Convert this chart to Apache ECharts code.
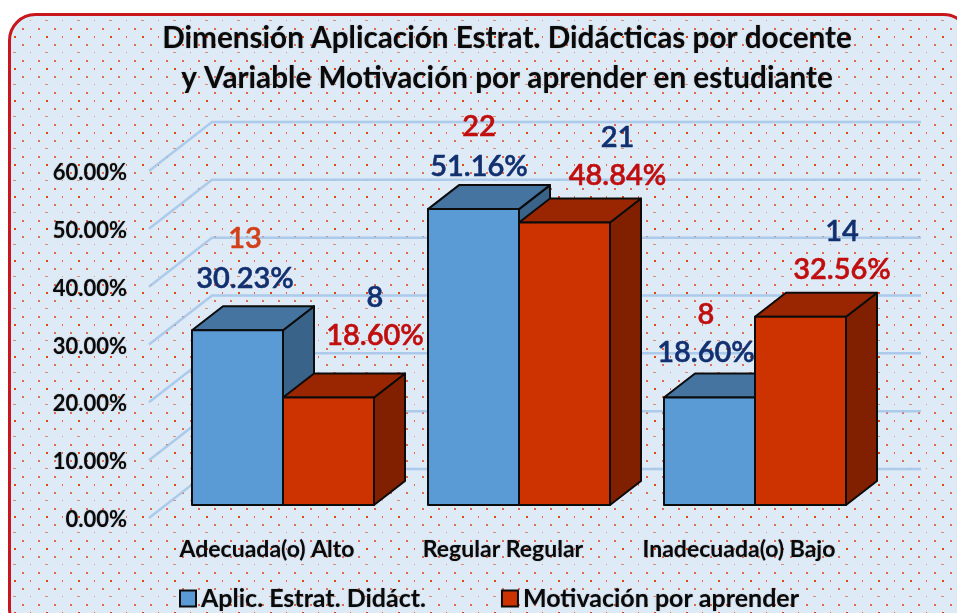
<!DOCTYPE html>
<html><head><meta charset="utf-8">
<style>html,body{margin:0;padding:0;background:#fff}#c{width:957px;height:613px}</style>
<script src="https://cdn.jsdelivr.net/npm/echarts@6/dist/echarts.min.js"></script>
</head><body><div id="c"></div>
<script>
const categories = ['Adecuada(o) Alto', 'Regular Regular', 'Inadecuada(o) Bajo'];
const yTicks = [0, 10, 20, 30, 40, 50, 60];
const seriesNames = ['Aplic. Estrat. Didáct.', 'Motivación por aprender'];
const aplicPct = [30.23, 51.16, 18.60];
const motivPct = [18.60, 48.84, 32.56];
const aplicCount = [13, 22, 8];
const motivCount = [8, 21, 14];
const titleText = 'Dimensión Aplicación Estrat. Didácticas por docente\ny Variable Motivación por aprender en estudiante';

const FONT = 'Lato';
const NAVY = '#12306f', RED = '#c00d0d', ORANGE = '#d2401a';
const BLUE = {front:'#5b9bd5', top:'#44749f', side:'#3a6389'};
const ORG = {front:'#cc3300', top:'#992600', side:'#802000'};
const labelPlace = [
  {pct:aplicPct,cnt:aplicCount,c:0,dx:-22,cy:-92,py:-52,cc:ORANGE,pc:NAVY},
  {pct:motivPct,cnt:motivCount,c:0,dx:108,cy:-100,py:-62,cc:NAVY,pc:RED},
  {pct:aplicPct,cnt:aplicCount,c:1,dx:-24,cy:-82,py:-42,cc:RED,pc:NAVY},
  {pct:motivPct,cnt:motivCount,c:1,dx:114.5,cy:-85,py:-47,cc:NAVY,pc:RED},
  {pct:aplicPct,cnt:aplicCount,c:2,dx:-33,cy:-83,py:-45,cc:RED,pc:NAVY},
  {pct:motivPct,cnt:motivCount,c:2,dx:103,cy:-85,py:-47,cc:NAVY,pc:RED}
];

function tile(){
  const t=document.createElement('canvas');t.width=32;t.height=32;
  const g=t.getContext('2d');
  g.fillStyle='#deeaf6';g.fillRect(0,0,32,32);
  const d=(x,y,a,w,h)=>{g.fillStyle='rgba(225,60,5,'+a+')';g.fillRect(x,y,w,h);};
  d(14,4,0.95,2,2);d(30,4,0.75,1,2);
  d(6,12,0.7,2,2);d(22,12,0.7,2,2);
  d(13,20,0.55,3,1);d(30,20,0.5,1,1);
  d(6,28,0.75,2,2);d(22,28,0.75,2,2);
  return t;
}

const chart = echarts.init(document.getElementById('c'), null, {renderer:'canvas'});

const GEO = {barFrac:91/236, off:16/236, baseDy:-13, depthX:31, depthY:-24, wallX:63, wallY:-49, wallEnd:64};

function gridRender(p, api){
  const cs=p.coordSys, y=api.coord([0,api.value(1)])[1];
  const xl=cs.x, xr=cs.x+cs.width;
  return {type:'polyline',silent:true,shape:{points:[[xl,y],[xl+GEO.wallX,y+GEO.wallY],[xr+GEO.wallEnd,y+GEO.wallY]]},
    style:{fill:null,stroke:'#a6c6e8',lineWidth:2.5,opacity:.9}};
}
function barRender(colors, idx){
  return function(p, api){
    const band=api.size([1,0])[0], c=api.coord([api.value(0),api.value(1)]);
    const z=api.coord([api.value(0),0]);
    const w=band*GEO.barFrac, cx=c[0]+band*GEO.off;
    const x0=idx===0?cx-w:cx, x1=x0+w;
    const yt=c[1]+GEO.baseDy, yb=z[1]+GEO.baseDy, dx=GEO.depthX, dy=GEO.depthY;
    const st=f=>({fill:f,stroke:'#0c0c0c',lineWidth:2,lineJoin:'round'});
    return {type:'group',children:[
      {type:'polygon',shape:{points:[[x1,yt],[x1+dx,yt+dy],[x1+dx,yb+dy],[x1,yb]]},style:st(colors.side)},
      {type:'polygon',shape:{points:[[x0,yt],[x0+dx,yt+dy],[x1+dx,yt+dy],[x1,yt]]},style:st(colors.top)},
      {type:'rect',shape:{x:x0,y:yt,width:w,height:yb-yt},style:st(colors.front)}
    ]};
  };
}
function labelRender(p, api){
  const l=labelPlace[p.dataIndex];
  const c=api.coord([l.c,l.pct[l.c]]);
  const x=c[0]+l.dx;
  const txt=(t,y,col)=>({type:'text',style:{text:t,x:x,y:y,fill:col,stroke:col,lineWidth:.5,font:'600 29px '+FONT,align:'center',verticalAlign:'middle'}});
  return {type:'group',children:[
    txt(String(l.cnt[l.c]),c[1]+GEO.baseDy+l.cy,l.cc),
    txt(l.pct[l.c].toFixed(2)+'%',c[1]+GEO.baseDy+l.py,l.pc)
  ]};
}
const soft={textShadowColor:'rgba(0,0,0,.3)',textShadowBlur:1.5};

chart.setOption({
  animation:false,
  backgroundColor:'#ffffff',
  textStyle:{fontFamily:FONT},
  graphic:[{type:'rect',z:-10,silent:true,shape:{x:9.5,y:14.5,width:960,height:620,r:26},
    style:{fill:{image:tile(),repeat:'repeat'},stroke:'#c8161d',lineWidth:3}}],
  title:{text:titleText,left:502,top:13,textAlign:'center',
    textStyle:Object.assign({fontFamily:FONT,fontWeight:'bold',fontSize:29.7,lineHeight:40,color:'#0a0a0a'},soft)},
  legend:{data:seriesNames,left:174,top:581,itemWidth:16,itemHeight:16,itemGap:75,icon:'rect',
    textStyle:Object.assign({fontFamily:FONT,fontWeight:'bold',fontSize:25,color:'#0a0a0a'},soft)},
  grid:{left:149,width:708,top:171,height:347,containLabel:false},
  xAxis:{type:'category',data:categories,axisLine:{show:false},axisTick:{show:false},
    axisLabel:Object.assign({interval:0,hideOverlap:false,fontFamily:FONT,fontWeight:'bold',fontSize:23,color:'#0a0a0a',margin:20},soft)},
  yAxis:{type:'value',min:0,max:60,interval:10,splitLine:{show:false},axisLine:{show:false},axisTick:{show:false},
    axisLabel:Object.assign({fontFamily:FONT,fontWeight:'bold',fontSize:22,color:'#0a0a0a',margin:22,verticalAlign:'top',lineHeight:4,formatter:v=>v.toFixed(2)+'%'},soft)},
  series:[
    {type:'custom',name:'walls',silent:true,renderItem:gridRender,data:yTicks.map(t=>[0,t]),z:1,clip:false},
    {type:'custom',name:seriesNames[0],renderItem:barRender(BLUE,0),data:aplicPct.map((v,i)=>[i,v]),
      itemStyle:{color:BLUE.front,borderColor:'#0c0c0c',borderWidth:2},z:2,clip:false},
    {type:'custom',name:seriesNames[1],renderItem:barRender(ORG,1),data:motivPct.map((v,i)=>[i,v]),
      itemStyle:{color:ORG.front,borderColor:'#0c0c0c',borderWidth:2},z:3,clip:false},
    {type:'custom',name:'labels',silent:true,renderItem:labelRender,data:labelPlace.map(l=>[l.c,l.pct[l.c]]),z:4,clip:false}
  ]
});
</script></body></html>
